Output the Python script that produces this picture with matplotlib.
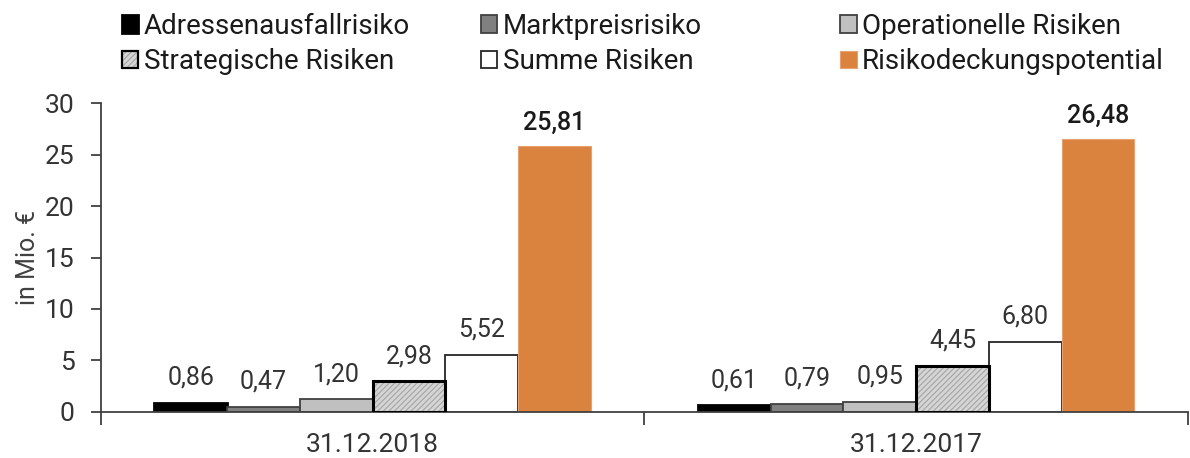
import matplotlib
matplotlib.use("Agg")
import matplotlib.pyplot as plt
from matplotlib.patches import Rectangle
from matplotlib.legend_handler import HandlerTuple
import numpy as np

plt.rcParams['font.family'] = ['Roboto', 'DejaVu Sans']
plt.rcParams['hatch.linewidth'] = 0.9

categories = ["31.12.2018", "31.12.2017"]
series_names = ["Adressenausfallrisiko", "Marktpreisrisiko", "Operationelle Risiken",
                "Strategische Risiken", "Summe Risiken", "Risikodeckungspotential"]
adressen = [0.86, 0.61]
markt = [0.47, 0.79]
operationell = [1.20, 0.95]
strategisch = [2.98, 4.45]
summe = [5.52, 6.80]
deckung = [25.81, 26.48]
values = [adressen, markt, operationell, strategisch, summe, deckung]
yticks = [0, 5, 10, 15, 20, 25, 30]

def fmt(v):
    return f"{v:.2f}".replace(".", ",")

W, H = 1190, 458
fig = plt.figure(figsize=(W / 100, H / 100), dpi=100)
ax = fig.add_axes([100.7 / W, 1 - 411.7 / H, 1087.3 / W, (411.7 - 103.3) / H])

x = np.arange(len(categories))
w = 0.1338
styles = [
    dict(facecolor="#000000", edgecolor="#000000", linewidth=2.0),
    dict(facecolor="#808080", edgecolor="#404040", linewidth=1.3),
    dict(facecolor="#c0c0c0", edgecolor="#404040", linewidth=1.3),
    dict(facecolor="#d6d6d6", edgecolor="#000000", linewidth=2.2),
    dict(facecolor="#ffffff", edgecolor="#262626", linewidth=1.3),
    dict(facecolor="#DA833F", edgecolor="#E8A070", linewidth=0.8),
]
handles = []
for i, (vals, st) in enumerate(zip(values, styles)):
    pos = x + (i - 2.5) * w
    if i == 3:
        ax.bar(pos, vals, w, facecolor=st["facecolor"], edgecolor="#a8a8a8",
               hatch="//////", linewidth=0, zorder=2)
        ax.bar(pos, vals, w, facecolor="none", edgecolor=st["edgecolor"],
               linewidth=st["linewidth"], zorder=3)
        h = Rectangle((0, 0), 1, 1, facecolor=st["facecolor"], edgecolor="#a8a8a8",
                      hatch="//////", linewidth=0)
        hh = (h, Rectangle((0, 0), 1, 1, facecolor="none", edgecolor="#000000", linewidth=1.6))
        handles.append(hh)
    else:
        b = ax.bar(pos, vals, w, zorder=2, **st)
        handles.append(b)
    for p, v in zip(pos, vals):
        if i == 5:
            ax.annotate(fmt(v), (p, v), xytext=(0, 17), textcoords="offset points",
                        ha="center", va="center", fontsize=18, fontweight="medium",
                        color="#1a1a1a")
        else:
            ax.annotate(fmt(v), (p, v), xytext=(0, 18), textcoords="offset points",
                        ha="center", va="center", fontsize=18, color="#333333")

ax.set_xlim(-0.5, 1.5)
ax.set_ylim(0, 30)
ax.set_yticks(yticks)
ax.set_yticklabels([str(t) for t in yticks])
ax.set_xticks([-0.5, 0.5, 1.5])
ax.set_xticklabels(["", "", ""])
ax.set_xticks(x, minor=True)
ax.set_xticklabels(categories, minor=True)
ax.tick_params(axis="x", which="major", direction="out", length=9, width=1.3, color="#404040")
ax.tick_params(axis="x", which="minor", length=0, pad=15, labelsize=19, labelcolor="#333333")
ax.tick_params(axis="y", direction="out", length=7, width=1.3, color="#404040",
               pad=12, labelsize=19, labelcolor="#333333")
for s in ["top", "right"]:
    ax.spines[s].set_visible(False)
for s in ["left", "bottom"]:
    ax.spines[s].set_color("#404040")
    ax.spines[s].set_linewidth(1.3)
ax.set_ylabel("in Mio. €", fontsize=18, color="#404040")
ax.yaxis.set_label_coords((40 - 100.7) / 1087.3, 0.5)

col_x = [121.7, 480.7, 840.0]
for c in range(3):
    hs = [handles[c], handles[c + 3]]
    ls = [series_names[c], series_names[c + 3]]
    fig.legend(hs, ls, loc="center left", bbox_to_anchor=(col_x[c] / W, 1 - 44 / H),
               frameon=False, fontsize=20, handlelength=0.6, handleheight=0.6,
               handletextpad=0.2, labelspacing=0.32, borderpad=0, borderaxespad=0,
               labelcolor="#1a1a1a", handler_map={tuple: HandlerTuple(ndivide=1, pad=0)})

fig.savefig("out.png", dpi=100)
